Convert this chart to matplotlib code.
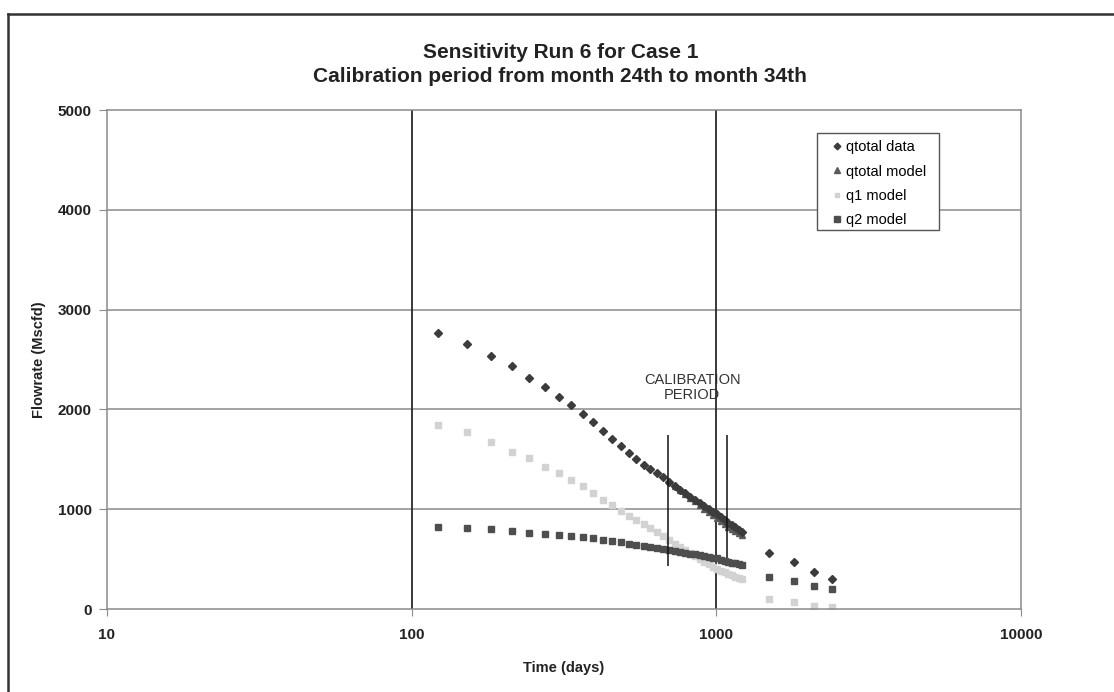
import matplotlib
matplotlib.use("Agg")
import matplotlib.pyplot as plt
from matplotlib.lines import Line2D
from matplotlib.patches import Rectangle

plt.rcParams['font.family'] = ['Liberation Sans', 'DejaVu Sans']

# monthly production, months 4 to 40 (days)
t_month = [122, 152, 182, 213, 243, 274, 304, 334, 365, 395, 426, 456, 486,
           517, 547, 578, 608, 639, 669, 699, 730, 760, 791, 821, 851, 882,
           912, 943, 973, 1003, 1034, 1064, 1095, 1125, 1156, 1186, 1216]

qtotal_data = [2762, 2655, 2538, 2435, 2318, 2227, 2121, 2044, 1951, 1871,
               1784, 1703, 1633, 1560, 1500, 1443, 1400, 1360, 1320, 1268,
               1230, 1192, 1159, 1125, 1093, 1062, 1032, 1004, 977, 949,
               922, 894, 867, 842, 817, 794, 772]

q1_model = [1844, 1771, 1670, 1576, 1510, 1426, 1360, 1293, 1228, 1162,
            1097, 1042, 987, 937, 892, 847, 807, 767, 729, 691,
            656, 623, 591, 561, 531, 503, 476, 451, 426, 406,
            386, 368, 351, 336, 321, 309, 298]

q2_model = [825, 812, 799, 785, 765, 755, 741, 731, 718, 708,
            691, 681, 668, 652, 643, 631, 621, 611, 601, 591,
            581, 571, 563, 555, 547, 539, 531, 523, 515, 507,
            495, 485, 475, 466, 458, 451, 446]

# total model over calibration and after (months 23 to 40)
t_model = [699, 730, 760, 791, 821, 851, 882, 912, 943, 973, 1003, 1034,
           1064, 1095, 1125, 1156, 1186, 1216]
qtotal_model = [1282, 1237, 1194, 1154, 1116, 1078, 1042, 1007, 974, 941,
                913, 881, 853, 826, 802, 779, 760, 744]

# forecast points
t_late = [1490, 1795, 2100, 2400]
qtotal_late = [564, 474, 368, 304]
q1_late = [97, 73, 30, 23]
q2_late = [324, 278, 230, 197]

# calibration window
calib_t = [695, 1086]
calib_lo = [431, 511]
calib_hi = [1743, 1743]

fig = plt.figure(figsize=(11.14, 6.92), dpi=100)
ax = fig.add_axes([0.0960, 0.1199, 0.8205, 0.7211])

ax.set_xscale('log')
ax.set_xlim(10, 10000)
ax.set_ylim(0, 5000)

# grid
for y in [1000, 2000, 3000, 4000]:
    ax.axhline(y, color='#8a8a8a', lw=1.1, zorder=1)
for x in [100, 1000]:
    ax.axvline(x, color='#2a2a2a', lw=1.3, zorder=1)

ax.plot(t_month + t_late, q1_model + q1_late, ls='none', marker='s', ms=4,
        mfc='#d2d2d2', mec='#d2d2d2', zorder=2, label='q1 model')
ax.plot(t_month + t_late, q2_model + q2_late, ls='none', marker='s', ms=4.6,
        mfc='#4e4e4e', mec='#4e4e4e', zorder=3, label='q2 model')
ax.plot(t_model, qtotal_model, ls='none', marker='^', ms=4.5,
        mfc='#5a5a5a', mec='#5a5a5a', zorder=3, label='qtotal model')
ax.plot(t_month + t_late, qtotal_data + qtotal_late, ls='none', marker='D',
        ms=4, mfc='#3c3c3c', mec='#3c3c3c', zorder=4, label='qtotal data')

ax.vlines(calib_t, calib_lo, calib_hi, color='#111111', lw=1.1, zorder=5)
ax.text(834, 2219, 'CALIBRATION\nPERIOD', ha='center', va='center',
        fontsize=10.5, color='#333333', linespacing=1.15, zorder=0.5)

# axes styling
for s in ax.spines.values():
    s.set_color('#8a8a8a')
    s.set_linewidth(1.1)
ax.set_yticks([0, 1000, 2000, 3000, 4000, 5000])
ax.set_xticks([10, 100, 1000, 10000])
ax.set_xticklabels(['10', '100', '1000', '10000'])
ax.minorticks_off()
ax.tick_params(axis='y', direction='out', length=6, color='#8a8a8a',
               labelsize=11, pad=5)
ax.tick_params(axis='x', direction='out', length=5, color='#8a8a8a',
               labelsize=11, pad=9)
for lab in ax.get_xticklabels() + ax.get_yticklabels():
    lab.set_fontweight('bold')
    lab.set_color('#222222')

ax.set_xlabel('Time (days)', fontsize=10.5, fontweight='bold', labelpad=13,
              color='#222222')
ax.set_ylabel('Flowrate (Mscfd)', fontsize=10.5, fontweight='bold',
              color='#222222')
ax.yaxis.set_label_coords(-61 / 914, 0.5)

fig.text(0.503, 1 - 53 / 692, 'Sensitivity Run 6 for Case 1', ha='center',
         va='center', fontsize=15, fontweight='bold', color='#222222')
fig.text(0.503, 1 - 76 / 692, 'Calibration period from month 24th to month 34th',
         ha='center', va='center', fontsize=15, fontweight='bold',
         color='#222222')

# legend box drawn separately so its size can be set freely
ax.add_patch(Rectangle((0.7768, 0.7595), 0.1335, 0.1944, transform=ax.transAxes,
                       facecolor='white', edgecolor='#555555', lw=1.0,
                       zorder=6))
handles, labels = ax.get_legend_handles_labels()
order = ['qtotal data', 'qtotal model', 'q1 model', 'q2 model']
hmap = dict(zip(labels, handles))
leg = ax.legend([hmap[k] for k in order], order, loc='upper left',
                bbox_to_anchor=(0.789, 0.948), frameon=False,
                fontsize=10.5, handlelength=0.6, handletextpad=0.3,
                borderpad=0.3, borderaxespad=0, labelspacing=0.7,
                markerscale=0.85)
leg.set_zorder(7)

# chart frame
fig.add_artist(Line2D([8 / 1114, 8 / 1114], [0, 1 - 14 / 692],
                      transform=fig.transFigure, color='#333333', lw=1.8))
fig.add_artist(Line2D([8 / 1114, 1], [1 - 14 / 692, 1 - 14 / 692],
                      transform=fig.transFigure, color='#333333', lw=1.8))

fig.savefig('out.png', dpi=100)
